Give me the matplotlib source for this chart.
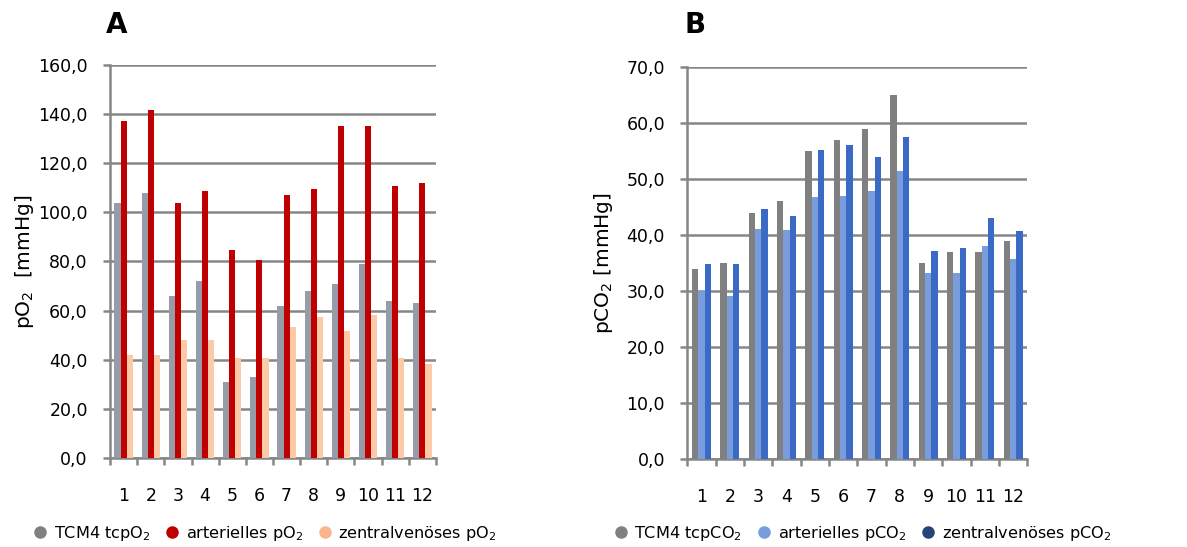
import numpy as np
import matplotlib
matplotlib.use("Agg")
import matplotlib.pyplot as plt
from matplotlib.lines import Line2D

plt.rcParams["font.family"] = ["DejaVu Sans"]
plt.rcParams["mathtext.fontset"] = "dejavusans"

patients = [str(i) for i in range(1, 13)]

# Panel A: oxygen partial pressures [mmHg]
tcpo2 = [104, 108, 66, 72, 31, 33, 62, 68, 71, 79, 64, 63]
art_po2 = [137, 141.5, 104, 108.7, 84.7, 80.6, 107, 109.5, 135.2, 135.2, 110.7, 111.8]
zv_po2 = [41.9, 41.9, 47.9, 48, 40.8, 40.8, 53.5, 57.4, 51.7, 58.2, 40.8, 38.3]

# Panel B: carbon dioxide partial pressures [mmHg]
tcpco2 = [34, 35, 44, 46, 55, 57, 59, 65, 35, 37, 37, 39]
art_pco2 = [30.0, 29.1, 41.1, 40.8, 46.8, 46.9, 47.9, 51.5, 33.2, 33.2, 38.1, 35.7]
zv_pco2 = [34.8, 34.8, 44.6, 43.4, 55.1, 56.0, 54.0, 57.5, 37.1, 37.6, 43.0, 40.7]

labels_a = [r"TCM4 tcpO$_2$", r"arterielles pO$_2$", r"zentralvenöses pO$_2$"]
labels_b = [r"TCM4 tcpCO$_2$", r"arterielles pCO$_2$", r"zentralvenöses pCO$_2$"]

bar_colors_a = ["#969ca8", "#c00000", "#fdcaa8"]
legend_colors_a = ["#808080", "#c00000", "#fbb58c"]
bar_colors_b = ["#808080", "#789cdc", "#3a69c6"]
legend_colors_b = ["#808080", "#789cdc", "#264478"]

GRID = "#868686"


def draw_panel(ax, series, colors, legend_colors, labels, ymax, ystep,
               ylabel, ylabelpad, letter, letter_x, legend_x):
    x = np.arange(1, len(patients) + 1)
    w = 0.225
    for k, (vals, c) in enumerate(zip(series, colors)):
        ax.bar(x + (k - 1) * w, vals, width=w, color=c, zorder=3)

    ax.set_xlim(0.5, len(patients) + 0.5)
    ax.set_ylim(0, ymax)
    yt = np.arange(0, ymax + ystep / 2, ystep)
    ax.set_yticks(yt)
    ax.set_yticklabels([f"{v:.1f}".replace(".", ",") for v in yt])
    ax.yaxis.grid(True, color=GRID, linewidth=1.8, zorder=0)
    ax.set_axisbelow(True)

    # boundaries get the tick marks, centres get the labels
    ax.set_xticks(np.arange(0.5, len(patients) + 1, 1))
    ax.set_xticklabels([])
    ax.set_xticks(x, minor=True)
    ax.set_xticklabels(patients, minor=True)
    ax.tick_params(axis="x", which="major", direction="out", length=5,
                   width=1.8, color=GRID)
    ax.tick_params(axis="x", which="minor", length=0, pad=21, labelsize=12.5)
    ax.tick_params(axis="y", direction="out", length=5, width=1.8,
                   color=GRID, pad=11, labelsize=12.5)

    for s in ["top", "right"]:
        ax.spines[s].set_visible(False)
    for s in ["left", "bottom"]:
        ax.spines[s].set_color(GRID)
        ax.spines[s].set_linewidth(1.8)

    ax.set_ylabel(ylabel, fontsize=14.5, labelpad=ylabelpad)
    ax.figure.text(letter_x, 0.955, letter, fontsize=20, fontweight="bold",
                   va="center", ha="left")

    handles = [Line2D([], [], marker="o", linestyle="none", markersize=8,
                      color=c) for c in legend_colors]
    ax.legend(handles, labels, loc="center", ncol=3, frameon=False,
              bbox_to_anchor=(legend_x, 0.025), bbox_transform=ax.figure.transFigure,
              fontsize=11.6, handlelength=0.6, handletextpad=0.55,
              columnspacing=1.05, borderaxespad=0)


fig = plt.figure(figsize=(11.87, 5.47), dpi=100)
ax_a = fig.add_axes([0.0927, 0.1627, 0.2746, 0.7185])
ax_b = fig.add_axes([0.579, 0.1609, 0.2864, 0.7167])

draw_panel(ax_a, [tcpo2, art_po2, zv_po2], bar_colors_a, legend_colors_a,
           labels_a, 160, 20, r"pO$_2$  [mmHg]", 1.5, "A", 0.089, 0.2241)
draw_panel(ax_b, [tcpco2, art_pco2, zv_pco2], bar_colors_b, legend_colors_b,
           labels_b, 70, 10, r"pCO$_2$ [mmHg]", 8, "B", 0.577, 0.7275)

fig.savefig("out.png", dpi=100)
